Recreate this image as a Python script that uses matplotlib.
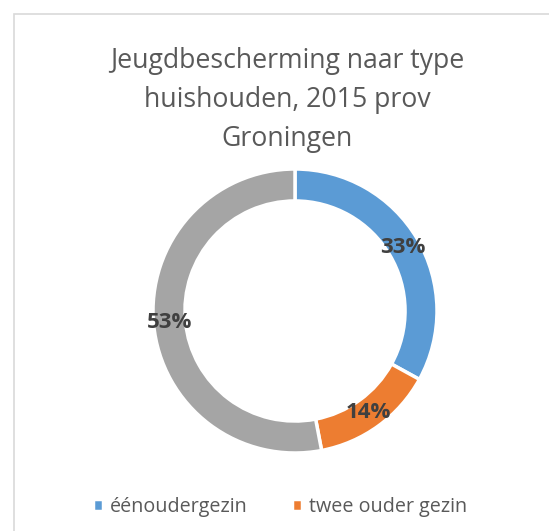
import numpy as np
import matplotlib.pyplot as plt
from matplotlib.patches import Rectangle

categories = ["éénoudergezin", "twee ouder gezin", "overig"]
values = [33, 14, 53]
colors = ["#5B9BD5", "#ED7D31", "#A5A5A5"]

plt.rcParams['font.family'] = ['Open Sans', 'DejaVu Sans']

fig = plt.figure(figsize=(5.49, 5.31), dpi=100)
fig.patches.append(Rectangle((14 / 549, -0.1), 1.2, 1 - 14 / 531 + 0.1,
                             transform=fig.transFigure, fill=False,
                             edgecolor="#D9D9D9", linewidth=1.2))

# pie axes: centre ~ (295, 311) px, outer radius ~142 px
cx, cy, r = 295, 311, 142
ax = fig.add_axes([(cx - r) / 549, 1 - (cy + r) / 531, 2 * r / 549, 2 * r / 531])
wedges, _ = ax.pie(values, colors=colors, startangle=90, counterclock=False,
                   radius=1.0, wedgeprops=dict(width=0.225, edgecolor="white", linewidth=2.5))
ax.set_xlim(-1, 1)
ax.set_ylim(-1, 1)
ax.set_aspect('equal')

for w, v in zip(wedges, values):
    mid = np.deg2rad((w.theta1 + w.theta2) / 2)
    ax.text(0.885 * np.cos(mid), 0.885 * np.sin(mid), f"{v}%", ha='center', va='center',
            fontsize=16, fontweight='bold', color="#404040")

fig.text(287 / 549, 1 - 100 / 531, "Jeugdbescherming naar type\nhuishouden, 2015 prov\nGroningen",
         ha='center', va='center', fontsize=19.2, color="#595959", linespacing=1.52)

fig.legend(wedges[:2], categories[:2], loc='center', bbox_to_anchor=(280 / 549, 1 - 507 / 531),
           ncol=2, frameon=False, fontsize=14.2, labelcolor="#595959",
           handlelength=0.55, handleheight=0.55, handletextpad=0.35, columnspacing=2.2)

fig.savefig("out.png", dpi=100)
